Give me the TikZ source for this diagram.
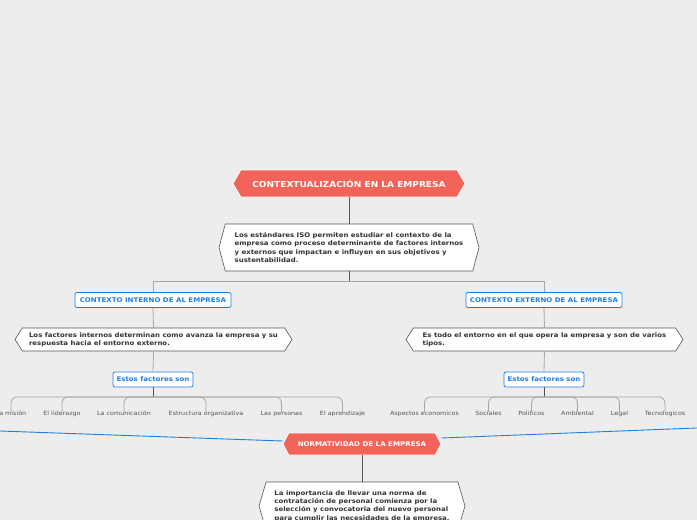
\documentclass[tikz,border=0pt]{standalone}
\usepackage{fontspec}
\setmainfont{DejaVu Sans}[FakeStretch=1.1]
\usetikzlibrary{shapes.symbols,calc}
\definecolor{bg}{HTML}{EDEDED}
\definecolor{mmred}{HTML}{F2645A}
\definecolor{mmblue}{HTML}{1F7FE0}
\definecolor{txt}{HTML}{333333}
\definecolor{lbl}{HTML}{555555}
\definecolor{ln}{HTML}{555555}
\definecolor{lg}{HTML}{A6A6A6}
\tikzset{
  hexred/.style={signal, signal to=west and east, fill=mmred, draw=white, line width=0.8pt,
    text=white, inner sep=0pt},
  hexwhite/.style={signal, signal to=west and east, fill=white, draw=ln, line width=0.6pt,
    text=txt, align=left, inner sep=0pt, font=\bfseries\fontsize{6.33}{8.3}\selectfont},
  ctx/.style={rectangle, rounded corners=2pt, draw=mmblue, fill=white, line width=0.8pt,
    text=mmblue, font=\bfseries\fontsize{6.4}{8}\selectfont, minimum height=15pt, inner sep=0pt},
  lab/.style={text=lbl, font=\fontsize{5.8}{7}\selectfont, inner sep=1pt,
    text height=4.4pt, text depth=1.3pt},
  conn/.style={draw=ln, line width=0.8pt},
  conng/.style={draw=lg, line width=0.8pt},
  brk/.style={draw=lg, line width=0.8pt, rounded corners=6pt},
  rel/.style={draw=mmblue, line width=0.9pt},
}
\begin{document}
\begin{tikzpicture}[x=1pt,y=-1pt]
\fill[bg] (0,0) rectangle (697,520);
\useasboundingbox (0,0) rectangle (697,520);

% main nodes
\node[hexred, minimum width=232pt, minimum height=27pt, signal pointer angle=120,
  font=\bfseries\fontsize{8.2}{10}\selectfont] (title) at (349,183.5) {CONTEXTUALIZACIÓN EN LA EMPRESA};
\node[hexwhite, minimum width=260pt, minimum height=47pt, signal pointer angle=150] (iso) at (349,247.5)
  {Los estándares ISO permiten estudiar el contexto de la\\
   empresa como proceso determinante de factores internos\\
   y externos que impactan e influyen en sus objetivos y\\
   sustentabilidad.};
\coordinate (split) at (349,281);

\node[ctx, minimum width=156pt] (cin) at (153,300) {CONTEXTO INTERNO DE AL EMPRESA};
\node[ctx, minimum width=156pt] (cex) at (544,300) {CONTEXTO EXTERNO DE AL EMPRESA};

\node[hexwhite, minimum width=277pt, minimum height=23pt, signal pointer angle=115] (lhex) at (153.5,339.5)
  {Los factores internos determinan como avanza la empresa y su\\
   respuesta hacia el entorno externo.};
\node[hexwhite, minimum width=277pt, minimum height=23pt, signal pointer angle=115] (rhex) at (544.5,339.5)
  {Es todo el entorno en el que opera la empresa y son de varios\\
   tipos.};

\node[ctx, minimum width=80pt] (est1) at (153,379.5) {Estos factores son};
\node[ctx, minimum width=80pt] (est2) at (544,379.5) {Estos factores son};
\coordinate (bL) at (153,397);
\coordinate (bR) at (544,397);

% labels left
\node[lab] (l1) at (11,414) {La misión};
\node[lab] (l2) at (62,414) {El liderazgo};
\node[lab] (l3) at (124,414) {La comunicación};
\node[lab] (l4) at (206,414) {Estructura organizativa};
\node[lab] (l5) at (281.5,414) {Las personas};
\node[lab] (l6) at (342.5,414) {El aprendizaje};
% labels right
\node[lab] (r1) at (424.5,414) {Aspectos economicos};
\node[lab] (r2) at (488.5,414) {Sociales};
\node[lab] (r3) at (531.5,414) {Politicos};
\node[lab] (r4) at (577.5,414) {Ambiental};
\node[lab] (r5) at (619.5,414) {Legal};
\node[lab] (r6) at (665,414) {Tecnologicos};

\node[hexred, minimum width=158pt, minimum height=22pt, signal pointer angle=125,
  font=\bfseries\fontsize{6.45}{8}\selectfont] (norm) at (362,444) {NORMATIVIDAD DE LA EMPRESA};
\node[hexwhite, minimum width=206pt, minimum height=48pt, signal pointer angle=147] (bot) at (362,506)
  {La importancia de llevar una norma de\\
   contratación de personal comienza por la\\
   selección y convocatoria del nuevo personal\\
   para cumplir las necesidades de la empresa.};

\coordinate (relL) at (-20,430.3);
\coordinate (relR) at (717,427.2);

% connectors
\draw[conn] (title.south) -- (iso.north);
\draw[conn] (iso.south) -- (split);
\draw[conng] (split) -| (cin.north);
\draw[conng] (split) -| (cex.north);
\draw[conng] (cin.south) -- (lhex.north);
\draw[conng] (cex.south) -- (rhex.north);
\draw[conng] (lhex.south) -- (est1.north);
\draw[conng] (rhex.south) -- (est2.north);
\draw[conn] (est1.south) -- (bL);
\draw[conn] (est2.south) -- (bR);
\foreach \c in {l1,l2,l3,l4,l5,l6} \draw[brk] (bL) -| ($(\c.north)+(0,2)$);
\foreach \c in {r1,r2,r3,r4,r5,r6} \draw[brk] (bR) -| ($(\c.north)+(0,2)$);
\draw[conn] (norm.south) -- (bot.north);
\draw[rel] (relL) -- ($(norm.west)+(0,-3)$);
\draw[rel] ($(norm.east)+(0,-6)$) -- (relR);
\end{tikzpicture}
\end{document}
